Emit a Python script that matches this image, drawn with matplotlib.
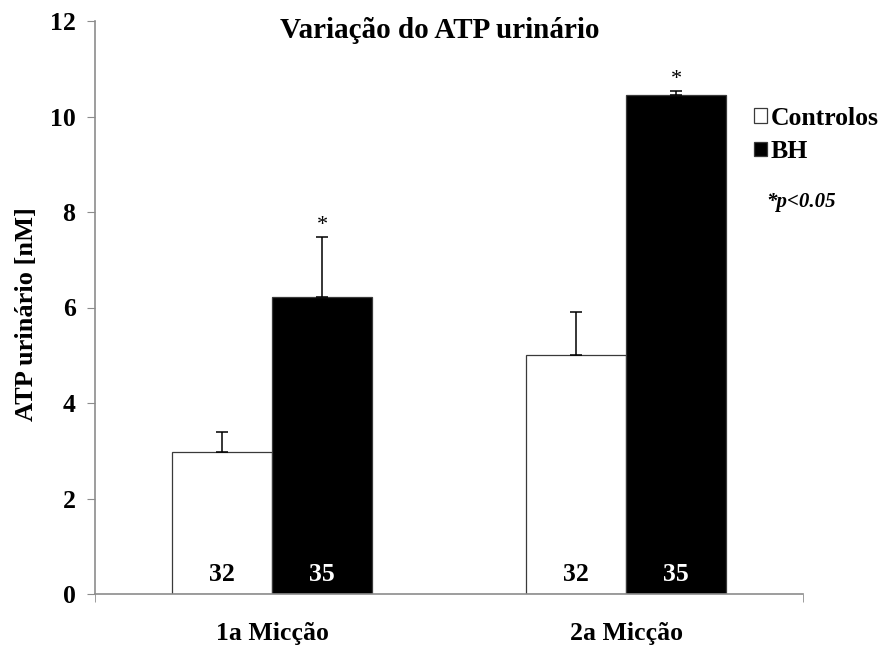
import matplotlib
matplotlib.use('Agg')
import matplotlib.pyplot as plt
import numpy as np

plt.rcParams['font.family'] = 'Liberation Serif'
plt.rcParams['font.weight'] = 'bold'
plt.rcParams['axes.labelweight'] = 'bold'
plt.rcParams['axes.titleweight'] = 'bold'

groups = ['1a Micção', '2a Micção']
series = ['Controlos', 'BH']
controlos = [2.97, 5.01]
controlos_err = [0.43, 0.90]
bh = [6.23, 10.46]
bh_err = [1.24, 0.07]
n_controlos = [32, 32]
n_bh = [35, 35]
axcol = '#8c8c8c'
fs = 18.5

fig = plt.figure(figsize=(8.86, 6.46), dpi=100)
ax = fig.add_axes([95/886, 1-594/646, (803-95)/886, (594-21)/646])

x = np.arange(len(groups))
width = 0.2825

r1 = ax.bar(x - width/2, controlos, width, color='white', edgecolor='#3a3a3a', linewidth=0.9, label=series[0])
r2 = ax.bar(x + width/2, bh, width, color='black', edgecolor='#3a3a3a', linewidth=0.9, label=series[1])
ax.errorbar(x - width/2, controlos, yerr=[np.zeros(2), controlos_err], fmt='none', ecolor='black', elinewidth=1.1, capsize=4.5, capthick=1.1)
ax.errorbar(x + width/2, bh, yerr=[np.zeros(2), bh_err], fmt='none', ecolor='black', elinewidth=1.1, capsize=4.5, capthick=1.1)

# significance stars over the BH bars
for xi, v, e in zip(x, bh, bh_err):
	ax.text(xi + width/2, v + e + 0.05, '*', ha='center', va='bottom', fontsize=16, fontweight='normal')

# sample sizes inside the bars
for xi, n in zip(x, n_controlos):
	ax.text(xi - width/2, 0.4, str(n), ha='center', va='center', fontsize=fs, color='black')
for xi, n in zip(x, n_bh):
	ax.text(xi + width/2, 0.4, str(n), ha='center', va='center', fontsize=fs, color='white')

ax.set_xlim(-0.5, 1.5)
ax.set_ylim(0, 12)
ax.set_yticks(np.arange(0, 13, 2))
ax.set_xticks([-0.5, 1.5], minor=True)
ax.set_xticks(x)
ax.set_xticklabels(groups, fontsize=fs)
ax.tick_params(axis='x', which='major', length=0, pad=20)
ax.tick_params(axis='x', which='minor', length=6, color=axcol, direction='out')
ax.tick_params(axis='y', length=6, color=axcol, direction='out', labelsize=fs, pad=8)
for s in ['top', 'right']:
	ax.spines[s].set_visible(False)
for s in ['left', 'bottom']:
	ax.spines[s].set_color(axcol)
	ax.spines[s].set_linewidth(1.2)

ax.set_ylabel('ATP urinário [nM]', fontsize=19)
ax.yaxis.set_label_coords(-0.08, 0.489)

fig.text(440/886, 1-30/646, 'Variação do ATP urinário', ha='center', va='center', fontsize=21)

leg = ax.legend(handles=[r1, r2], loc='upper left', bbox_to_anchor=(741/886, 1-94/646), bbox_transform=fig.transFigure,
	frameon=False, fontsize=fs, handlelength=0.5, handleheight=0.5, handletextpad=0.15, labelspacing=0.4, borderpad=0)
fig.text(801/886, 1-202/646, '*p<0.05', ha='center', va='center', fontsize=15, style='italic')

plt.savefig('out.png', dpi=100)
plt.close()
